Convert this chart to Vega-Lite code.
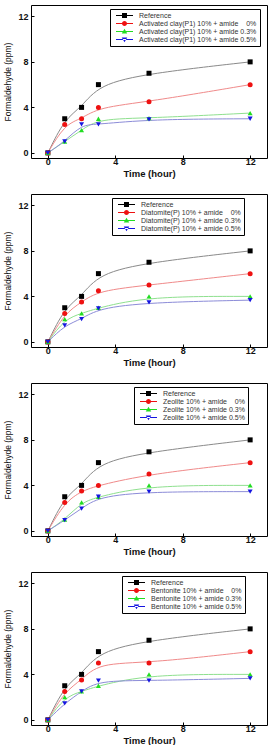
{
  "$schema": "https://vega.github.io/schema/vega-lite/v6.json",
  "padding": {"left": 3, "top": 4, "right": 5, "bottom": 0},
  "background": "white",
  "spacing": 15,
  "config": {
    "view": {"stroke": "#000", "strokeWidth": 1},
    "axis": {
      "domain": false, "grid": false, "labelOverlap": false,
      "labelFont": "Liberation Sans", "labelFontSize": 9, "labelFontWeight": "bold", "labelColor": "#111",
      "titleFont": "Liberation Sans", "titleColor": "#111",
      "tickColor": "#000", "tickWidth": 1, "tickSize": -3
    }
  },
  "data": {"values": [
    {"p": 1, "s": "Reference", "t": 0, "v": 0}, {"p": 1, "s": "Reference", "t": 1, "v": 3}, {"p": 1, "s": "Reference", "t": 2, "v": 4}, {"p": 1, "s": "Reference", "t": 3, "v": 6}, {"p": 1, "s": "Reference", "t": 6, "v": 7}, {"p": 1, "s": "Reference", "t": 12, "v": 8},
    {"p": 1, "s": "Activated clay(P1) 10% + amide\u00a0\u00a0\u00a0\u00a00%", "t": 0, "v": 0}, {"p": 1, "s": "Activated clay(P1) 10% + amide\u00a0\u00a0\u00a0\u00a00%", "t": 1, "v": 2.5}, {"p": 1, "s": "Activated clay(P1) 10% + amide\u00a0\u00a0\u00a0\u00a00%", "t": 2, "v": 3}, {"p": 1, "s": "Activated clay(P1) 10% + amide\u00a0\u00a0\u00a0\u00a00%", "t": 3, "v": 4}, {"p": 1, "s": "Activated clay(P1) 10% + amide\u00a0\u00a0\u00a0\u00a00%", "t": 6, "v": 4.5}, {"p": 1, "s": "Activated clay(P1) 10% + amide\u00a0\u00a0\u00a0\u00a00%", "t": 12, "v": 6},
    {"p": 1, "s": "Activated clay(P1) 10% + amide 0.3%", "t": 0, "v": 0}, {"p": 1, "s": "Activated clay(P1) 10% + amide 0.3%", "t": 1, "v": 1}, {"p": 1, "s": "Activated clay(P1) 10% + amide 0.3%", "t": 2, "v": 2}, {"p": 1, "s": "Activated clay(P1) 10% + amide 0.3%", "t": 3, "v": 3}, {"p": 1, "s": "Activated clay(P1) 10% + amide 0.3%", "t": 6, "v": 3.05}, {"p": 1, "s": "Activated clay(P1) 10% + amide 0.3%", "t": 12, "v": 3.5},
    {"p": 1, "s": "Activated clay(P1) 10% + amide 0.5%", "t": 0, "v": 0}, {"p": 1, "s": "Activated clay(P1) 10% + amide 0.5%", "t": 1, "v": 1}, {"p": 1, "s": "Activated clay(P1) 10% + amide 0.5%", "t": 2, "v": 2.5}, {"p": 1, "s": "Activated clay(P1) 10% + amide 0.5%", "t": 3, "v": 2.5}, {"p": 1, "s": "Activated clay(P1) 10% + amide 0.5%", "t": 6, "v": 2.95}, {"p": 1, "s": "Activated clay(P1) 10% + amide 0.5%", "t": 12, "v": 3},

    {"p": 2, "s": "Reference", "t": 0, "v": 0}, {"p": 2, "s": "Reference", "t": 1, "v": 3}, {"p": 2, "s": "Reference", "t": 2, "v": 4}, {"p": 2, "s": "Reference", "t": 3, "v": 6}, {"p": 2, "s": "Reference", "t": 6, "v": 7}, {"p": 2, "s": "Reference", "t": 12, "v": 8},
    {"p": 2, "s": "Diatomite(P) 10% + amide\u00a0\u00a0\u00a0\u00a00%", "t": 0, "v": 0}, {"p": 2, "s": "Diatomite(P) 10% + amide\u00a0\u00a0\u00a0\u00a00%", "t": 1, "v": 2.5}, {"p": 2, "s": "Diatomite(P) 10% + amide\u00a0\u00a0\u00a0\u00a00%", "t": 2, "v": 3.5}, {"p": 2, "s": "Diatomite(P) 10% + amide\u00a0\u00a0\u00a0\u00a00%", "t": 3, "v": 4.5}, {"p": 2, "s": "Diatomite(P) 10% + amide\u00a0\u00a0\u00a0\u00a00%", "t": 6, "v": 5}, {"p": 2, "s": "Diatomite(P) 10% + amide\u00a0\u00a0\u00a0\u00a00%", "t": 12, "v": 6},
    {"p": 2, "s": "Diatomite(P) 10% + amide 0.3%", "t": 0, "v": 0}, {"p": 2, "s": "Diatomite(P) 10% + amide 0.3%", "t": 1, "v": 2}, {"p": 2, "s": "Diatomite(P) 10% + amide 0.3%", "t": 2, "v": 2.5}, {"p": 2, "s": "Diatomite(P) 10% + amide 0.3%", "t": 3, "v": 3}, {"p": 2, "s": "Diatomite(P) 10% + amide 0.3%", "t": 6, "v": 4}, {"p": 2, "s": "Diatomite(P) 10% + amide 0.3%", "t": 12, "v": 4},
    {"p": 2, "s": "Diatomite(P) 10% + amide 0.5%", "t": 0, "v": 0}, {"p": 2, "s": "Diatomite(P) 10% + amide 0.5%", "t": 1, "v": 1.45}, {"p": 2, "s": "Diatomite(P) 10% + amide 0.5%", "t": 2, "v": 2}, {"p": 2, "s": "Diatomite(P) 10% + amide 0.5%", "t": 3, "v": 2.95}, {"p": 2, "s": "Diatomite(P) 10% + amide 0.5%", "t": 6, "v": 3.47}, {"p": 2, "s": "Diatomite(P) 10% + amide 0.5%", "t": 12, "v": 3.67},

    {"p": 3, "s": "Reference", "t": 0, "v": 0}, {"p": 3, "s": "Reference", "t": 1, "v": 3}, {"p": 3, "s": "Reference", "t": 2, "v": 4}, {"p": 3, "s": "Reference", "t": 3, "v": 6}, {"p": 3, "s": "Reference", "t": 6, "v": 6.95}, {"p": 3, "s": "Reference", "t": 12, "v": 8},
    {"p": 3, "s": "Zeolite 10% + amide\u00a0\u00a0\u00a0\u00a00%", "t": 0, "v": 0}, {"p": 3, "s": "Zeolite 10% + amide\u00a0\u00a0\u00a0\u00a00%", "t": 1, "v": 2.5}, {"p": 3, "s": "Zeolite 10% + amide\u00a0\u00a0\u00a0\u00a00%", "t": 2, "v": 3.5}, {"p": 3, "s": "Zeolite 10% + amide\u00a0\u00a0\u00a0\u00a00%", "t": 3, "v": 4}, {"p": 3, "s": "Zeolite 10% + amide\u00a0\u00a0\u00a0\u00a00%", "t": 6, "v": 5}, {"p": 3, "s": "Zeolite 10% + amide\u00a0\u00a0\u00a0\u00a00%", "t": 12, "v": 6},
    {"p": 3, "s": "Zeolite 10% + amide 0.3%", "t": 0, "v": 0}, {"p": 3, "s": "Zeolite 10% + amide 0.3%", "t": 1, "v": 1}, {"p": 3, "s": "Zeolite 10% + amide 0.3%", "t": 2, "v": 2.5}, {"p": 3, "s": "Zeolite 10% + amide 0.3%", "t": 3, "v": 3}, {"p": 3, "s": "Zeolite 10% + amide 0.3%", "t": 6, "v": 4}, {"p": 3, "s": "Zeolite 10% + amide 0.3%", "t": 12, "v": 4},
    {"p": 3, "s": "Zeolite 10% + amide 0.5%", "t": 0, "v": 0}, {"p": 3, "s": "Zeolite 10% + amide 0.5%", "t": 1, "v": 0.95}, {"p": 3, "s": "Zeolite 10% + amide 0.5%", "t": 2, "v": 1.96}, {"p": 3, "s": "Zeolite 10% + amide 0.5%", "t": 3, "v": 3}, {"p": 3, "s": "Zeolite 10% + amide 0.5%", "t": 6, "v": 3.45}, {"p": 3, "s": "Zeolite 10% + amide 0.5%", "t": 12, "v": 3.45},

    {"p": 4, "s": "Reference", "t": 0, "v": 0}, {"p": 4, "s": "Reference", "t": 1, "v": 3}, {"p": 4, "s": "Reference", "t": 2, "v": 4}, {"p": 4, "s": "Reference", "t": 3, "v": 6}, {"p": 4, "s": "Reference", "t": 6, "v": 7}, {"p": 4, "s": "Reference", "t": 12, "v": 8},
    {"p": 4, "s": "Bentonite 10% + amide\u00a0\u00a0\u00a0\u00a00%", "t": 0, "v": 0}, {"p": 4, "s": "Bentonite 10% + amide\u00a0\u00a0\u00a0\u00a00%", "t": 1, "v": 2.5}, {"p": 4, "s": "Bentonite 10% + amide\u00a0\u00a0\u00a0\u00a00%", "t": 2, "v": 3.5}, {"p": 4, "s": "Bentonite 10% + amide\u00a0\u00a0\u00a0\u00a00%", "t": 3, "v": 5}, {"p": 4, "s": "Bentonite 10% + amide\u00a0\u00a0\u00a0\u00a00%", "t": 6, "v": 5}, {"p": 4, "s": "Bentonite 10% + amide\u00a0\u00a0\u00a0\u00a00%", "t": 12, "v": 6},
    {"p": 4, "s": "Bentonite 10% + amide 0.3%", "t": 0, "v": 0}, {"p": 4, "s": "Bentonite 10% + amide 0.3%", "t": 1, "v": 2}, {"p": 4, "s": "Bentonite 10% + amide 0.3%", "t": 2, "v": 2.5}, {"p": 4, "s": "Bentonite 10% + amide 0.3%", "t": 3, "v": 3}, {"p": 4, "s": "Bentonite 10% + amide 0.3%", "t": 6, "v": 4}, {"p": 4, "s": "Bentonite 10% + amide 0.3%", "t": 12, "v": 4},
    {"p": 4, "s": "Bentonite 10% + amide 0.5%", "t": 0, "v": 0}, {"p": 4, "s": "Bentonite 10% + amide 0.5%", "t": 1, "v": 1.45}, {"p": 4, "s": "Bentonite 10% + amide 0.5%", "t": 2, "v": 2.5}, {"p": 4, "s": "Bentonite 10% + amide 0.5%", "t": 3, "v": 3.45}, {"p": 4, "s": "Bentonite 10% + amide 0.5%", "t": 6, "v": 3.45}, {"p": 4, "s": "Bentonite 10% + amide 0.5%", "t": 12, "v": 3.65}
  ]},
  "vconcat": [
    {
      "width": 236, "height": 153,
      "transform": [{"filter": "datum.p === 1"}],
      "layer": [
        {"mark": {"type": "line", "interpolate": "basis", "strokeWidth": 1},
         "encoding": {
           "x": {"field": "t", "type": "quantitative", "scale": {"domain": [-1, 13], "nice": false, "zero": false}, "axis": {"title": "Time (hour)", "titleFontSize": 9.5, "titleFontWeight": "bold", "titlePadding": 2, "labelPadding": 2, "labelOverlap": false, "values": [0,2,4,6,8,10,12]}},
           "y": {"field": "v", "type": "quantitative", "scale": {"domain": [-0.45, 13], "nice": false, "zero": false}, "axis": {"title": "Formaldehyde (ppm)", "titleFontSize": 8.5, "titleFontWeight": "normal", "titlePadding": 5, "labelPadding": 6, "labelOverlap": false, "values": [0,2,4,6,8,10,12]}},
           "color": {"field": "s", "type": "nominal", "scale": {"domain": ["Reference", "Activated clay(P1) 10% + amide\u00a0\u00a0\u00a0\u00a00%", "Activated clay(P1) 10% + amide 0.3%", "Activated clay(P1) 10% + amide 0.5%"], "range": ["#8a8a8a", "#f08a8a", "#8fe08f", "#8c8cd8"]}, "legend": null}
         }},
        {"mark": {"type": "point", "filled": true, "size": 25, "opacity": 1},
         "encoding": {
           "x": {"field": "t", "type": "quantitative"},
           "y": {"field": "v", "type": "quantitative"},
           "color": {"field": "s", "type": "nominal", "scale": {"domain": ["Reference", "Activated clay(P1) 10% + amide\u00a0\u00a0\u00a0\u00a00%", "Activated clay(P1) 10% + amide 0.3%", "Activated clay(P1) 10% + amide 0.5%"], "range": ["#000000", "#ee1111", "#22dd22", "#1515e0"]}, "legend": null},
           "shape": {"field": "s", "type": "nominal", "scale": {"domain": ["Reference", "Activated clay(P1) 10% + amide\u00a0\u00a0\u00a0\u00a00%", "Activated clay(P1) 10% + amide 0.3%", "Activated clay(P1) 10% + amide 0.5%"], "range": ["square", "circle", "triangle-up", "triangle-down"]}, "legend": null}
         }},
        {"mark": {"type": "point", "filled": true, "size": 25, "opacity": 0},
         "encoding": {
           "x": {"field": "t", "type": "quantitative"},
           "y": {"field": "v", "type": "quantitative"},
           "color": {"field": "s", "type": "nominal", "scale": {"domain": ["Reference", "Activated clay(P1) 10% + amide\u00a0\u00a0\u00a0\u00a00%", "Activated clay(P1) 10% + amide 0.3%", "Activated clay(P1) 10% + amide 0.5%"], "range": ["#000000", "#ee1111", "#22dd22", "#1515e0"]},
             "legend": {"orient": "none", "legendX": 79, "legendY": 4, "title": null, "symbolSize": 25, "symbolOffset": 8, "symbolOpacity": 1, "symbolStrokeWidth": 0, "labelFont": "Liberation Sans", "labelFontSize": 7, "labelColor": "#333", "labelOffset": 11, "padding": 3, "rowPadding": 0, "strokeColor": "#000"}},
           "shape": {"field": "s", "type": "nominal", "scale": {"domain": ["Reference", "Activated clay(P1) 10% + amide\u00a0\u00a0\u00a0\u00a00%", "Activated clay(P1) 10% + amide 0.3%", "Activated clay(P1) 10% + amide 0.5%"], "range": ["M-1,-1H1V1H-1Z M-3.4,-0.2H3.4V0.2H-3.4Z", "M1,0A1,1 0 1,1 -1,0A1,1 0 1,1 1,0Z M-3.4,-0.2H3.4V0.2H-3.4Z", "M0,-1.1L1.1,0.8H-1.1Z M-3.4,-0.2H3.4V0.2H-3.4Z", "M0,1.1L1.1,-0.8H-1.1Z M-3.4,-0.2H3.4V0.2H-3.4Z"]},
             "legend": {"orient": "none", "legendX": 79, "legendY": 4, "title": null, "symbolSize": 25, "symbolOffset": 8, "symbolOpacity": 1, "symbolStrokeWidth": 0, "labelFont": "Liberation Sans", "labelFontSize": 7, "labelColor": "#333", "labelOffset": 11, "padding": 3, "rowPadding": 0, "strokeColor": "#000"}}
         }}
      ],
      "resolve": {"scale": {"color": "independent", "shape": "independent"}}
    },
    {
      "width": 236, "height": 153,
      "transform": [{"filter": "datum.p === 2"}],
      "layer": [
        {"mark": {"type": "line", "interpolate": "basis", "strokeWidth": 1},
         "encoding": {
           "x": {"field": "t", "type": "quantitative", "scale": {"domain": [-1, 13], "nice": false, "zero": false}, "axis": {"title": "Time (hour)", "titleFontSize": 9.5, "titleFontWeight": "bold", "titlePadding": 2, "labelPadding": 2, "labelOverlap": false, "values": [0,2,4,6,8,10,12]}},
           "y": {"field": "v", "type": "quantitative", "scale": {"domain": [-0.45, 13], "nice": false, "zero": false}, "axis": {"title": "Formaldehyde (ppm)", "titleFontSize": 8.5, "titleFontWeight": "normal", "titlePadding": 5, "labelPadding": 6, "labelOverlap": false, "values": [0,2,4,6,8,10,12]}},
           "color": {"field": "s", "type": "nominal", "scale": {"domain": ["Reference", "Diatomite(P) 10% + amide\u00a0\u00a0\u00a0\u00a00%", "Diatomite(P) 10% + amide 0.3%", "Diatomite(P) 10% + amide 0.5%"], "range": ["#8a8a8a", "#f08a8a", "#8fe08f", "#8c8cd8"]}, "legend": null}
         }},
        {"mark": {"type": "point", "filled": true, "size": 25, "opacity": 1},
         "encoding": {
           "x": {"field": "t", "type": "quantitative"},
           "y": {"field": "v", "type": "quantitative"},
           "color": {"field": "s", "type": "nominal", "scale": {"domain": ["Reference", "Diatomite(P) 10% + amide\u00a0\u00a0\u00a0\u00a00%", "Diatomite(P) 10% + amide 0.3%", "Diatomite(P) 10% + amide 0.5%"], "range": ["#000000", "#ee1111", "#22dd22", "#1515e0"]}, "legend": null},
           "shape": {"field": "s", "type": "nominal", "scale": {"domain": ["Reference", "Diatomite(P) 10% + amide\u00a0\u00a0\u00a0\u00a00%", "Diatomite(P) 10% + amide 0.3%", "Diatomite(P) 10% + amide 0.5%"], "range": ["square", "circle", "triangle-up", "triangle-down"]}, "legend": null}
         }},
        {"mark": {"type": "point", "filled": true, "size": 25, "opacity": 0},
         "encoding": {
           "x": {"field": "t", "type": "quantitative"},
           "y": {"field": "v", "type": "quantitative"},
           "color": {"field": "s", "type": "nominal", "scale": {"domain": ["Reference", "Diatomite(P) 10% + amide\u00a0\u00a0\u00a0\u00a00%", "Diatomite(P) 10% + amide 0.3%", "Diatomite(P) 10% + amide 0.5%"], "range": ["#000000", "#ee1111", "#22dd22", "#1515e0"]},
             "legend": {"orient": "none", "legendX": 81, "legendY": 4, "title": null, "symbolSize": 25, "symbolOffset": 8, "symbolOpacity": 1, "symbolStrokeWidth": 0, "labelFont": "Liberation Sans", "labelFontSize": 7, "labelColor": "#333", "labelOffset": 11, "padding": 3, "rowPadding": 0, "strokeColor": "#000"}},
           "shape": {"field": "s", "type": "nominal", "scale": {"domain": ["Reference", "Diatomite(P) 10% + amide\u00a0\u00a0\u00a0\u00a00%", "Diatomite(P) 10% + amide 0.3%", "Diatomite(P) 10% + amide 0.5%"], "range": ["M-1,-1H1V1H-1Z M-3.4,-0.2H3.4V0.2H-3.4Z", "M1,0A1,1 0 1,1 -1,0A1,1 0 1,1 1,0Z M-3.4,-0.2H3.4V0.2H-3.4Z", "M0,-1.1L1.1,0.8H-1.1Z M-3.4,-0.2H3.4V0.2H-3.4Z", "M0,1.1L1.1,-0.8H-1.1Z M-3.4,-0.2H3.4V0.2H-3.4Z"]},
             "legend": {"orient": "none", "legendX": 81, "legendY": 4, "title": null, "symbolSize": 25, "symbolOffset": 8, "symbolOpacity": 1, "symbolStrokeWidth": 0, "labelFont": "Liberation Sans", "labelFontSize": 7, "labelColor": "#333", "labelOffset": 11, "padding": 3, "rowPadding": 0, "strokeColor": "#000"}}
         }}
      ],
      "resolve": {"scale": {"color": "independent", "shape": "independent"}}
    },
    {
      "width": 236, "height": 153,
      "transform": [{"filter": "datum.p === 3"}],
      "layer": [
        {"mark": {"type": "line", "interpolate": "basis", "strokeWidth": 1},
         "encoding": {
           "x": {"field": "t", "type": "quantitative", "scale": {"domain": [-1, 13], "nice": false, "zero": false}, "axis": {"title": "Time (hour)", "titleFontSize": 9.5, "titleFontWeight": "bold", "titlePadding": 2, "labelPadding": 2, "labelOverlap": false, "values": [0,2,4,6,8,10,12]}},
           "y": {"field": "v", "type": "quantitative", "scale": {"domain": [-0.45, 13], "nice": false, "zero": false}, "axis": {"title": "Formaldehyde (ppm)", "titleFontSize": 8.5, "titleFontWeight": "normal", "titlePadding": 5, "labelPadding": 6, "labelOverlap": false, "values": [0,2,4,6,8,10,12]}},
           "color": {"field": "s", "type": "nominal", "scale": {"domain": ["Reference", "Zeolite 10% + amide\u00a0\u00a0\u00a0\u00a00%", "Zeolite 10% + amide 0.3%", "Zeolite 10% + amide 0.5%"], "range": ["#8a8a8a", "#f08a8a", "#8fe08f", "#8c8cd8"]}, "legend": null}
         }},
        {"mark": {"type": "point", "filled": true, "size": 25, "opacity": 1},
         "encoding": {
           "x": {"field": "t", "type": "quantitative"},
           "y": {"field": "v", "type": "quantitative"},
           "color": {"field": "s", "type": "nominal", "scale": {"domain": ["Reference", "Zeolite 10% + amide\u00a0\u00a0\u00a0\u00a00%", "Zeolite 10% + amide 0.3%", "Zeolite 10% + amide 0.5%"], "range": ["#000000", "#ee1111", "#22dd22", "#1515e0"]}, "legend": null},
           "shape": {"field": "s", "type": "nominal", "scale": {"domain": ["Reference", "Zeolite 10% + amide\u00a0\u00a0\u00a0\u00a00%", "Zeolite 10% + amide 0.3%", "Zeolite 10% + amide 0.5%"], "range": ["square", "circle", "triangle-up", "triangle-down"]}, "legend": null}
         }},
        {"mark": {"type": "point", "filled": true, "size": 25, "opacity": 0},
         "encoding": {
           "x": {"field": "t", "type": "quantitative"},
           "y": {"field": "v", "type": "quantitative"},
           "color": {"field": "s", "type": "nominal", "scale": {"domain": ["Reference", "Zeolite 10% + amide\u00a0\u00a0\u00a0\u00a00%", "Zeolite 10% + amide 0.3%", "Zeolite 10% + amide 0.5%"], "range": ["#000000", "#ee1111", "#22dd22", "#1515e0"]},
             "legend": {"orient": "none", "legendX": 103, "legendY": 4, "title": null, "symbolSize": 25, "symbolOffset": 8, "symbolOpacity": 1, "symbolStrokeWidth": 0, "labelFont": "Liberation Sans", "labelFontSize": 7, "labelColor": "#333", "labelOffset": 11, "padding": 3, "rowPadding": 0, "strokeColor": "#000"}},
           "shape": {"field": "s", "type": "nominal", "scale": {"domain": ["Reference", "Zeolite 10% + amide\u00a0\u00a0\u00a0\u00a00%", "Zeolite 10% + amide 0.3%", "Zeolite 10% + amide 0.5%"], "range": ["M-1,-1H1V1H-1Z M-3.4,-0.2H3.4V0.2H-3.4Z", "M1,0A1,1 0 1,1 -1,0A1,1 0 1,1 1,0Z M-3.4,-0.2H3.4V0.2H-3.4Z", "M0,-1.1L1.1,0.8H-1.1Z M-3.4,-0.2H3.4V0.2H-3.4Z", "M0,1.1L1.1,-0.8H-1.1Z M-3.4,-0.2H3.4V0.2H-3.4Z"]},
             "legend": {"orient": "none", "legendX": 103, "legendY": 4, "title": null, "symbolSize": 25, "symbolOffset": 8, "symbolOpacity": 1, "symbolStrokeWidth": 0, "labelFont": "Liberation Sans", "labelFontSize": 7, "labelColor": "#333", "labelOffset": 11, "padding": 3, "rowPadding": 0, "strokeColor": "#000"}}
         }}
      ],
      "resolve": {"scale": {"color": "independent", "shape": "independent"}}
    },
    {
      "width": 236, "height": 153,
      "transform": [{"filter": "datum.p === 4"}],
      "layer": [
        {"mark": {"type": "line", "interpolate": "basis", "strokeWidth": 1},
         "encoding": {
           "x": {"field": "t", "type": "quantitative", "scale": {"domain": [-1, 13], "nice": false, "zero": false}, "axis": {"title": "Time (hour)", "titleFontSize": 9.5, "titleFontWeight": "bold", "titlePadding": 2, "labelPadding": 2, "labelOverlap": false, "values": [0,2,4,6,8,10,12]}},
           "y": {"field": "v", "type": "quantitative", "scale": {"domain": [-0.45, 13], "nice": false, "zero": false}, "axis": {"title": "Formaldehyde (ppm)", "titleFontSize": 8.5, "titleFontWeight": "normal", "titlePadding": 5, "labelPadding": 6, "labelOverlap": false, "values": [0,2,4,6,8,10,12]}},
           "color": {"field": "s", "type": "nominal", "scale": {"domain": ["Reference", "Bentonite 10% + amide\u00a0\u00a0\u00a0\u00a00%", "Bentonite 10% + amide 0.3%", "Bentonite 10% + amide 0.5%"], "range": ["#8a8a8a", "#f08a8a", "#8fe08f", "#8c8cd8"]}, "legend": null}
         }},
        {"mark": {"type": "point", "filled": true, "size": 25, "opacity": 1},
         "encoding": {
           "x": {"field": "t", "type": "quantitative"},
           "y": {"field": "v", "type": "quantitative"},
           "color": {"field": "s", "type": "nominal", "scale": {"domain": ["Reference", "Bentonite 10% + amide\u00a0\u00a0\u00a0\u00a00%", "Bentonite 10% + amide 0.3%", "Bentonite 10% + amide 0.5%"], "range": ["#000000", "#ee1111", "#22dd22", "#1515e0"]}, "legend": null},
           "shape": {"field": "s", "type": "nominal", "scale": {"domain": ["Reference", "Bentonite 10% + amide\u00a0\u00a0\u00a0\u00a00%", "Bentonite 10% + amide 0.3%", "Bentonite 10% + amide 0.5%"], "range": ["square", "circle", "triangle-up", "triangle-down"]}, "legend": null}
         }},
        {"mark": {"type": "point", "filled": true, "size": 25, "opacity": 0},
         "encoding": {
           "x": {"field": "t", "type": "quantitative"},
           "y": {"field": "v", "type": "quantitative"},
           "color": {"field": "s", "type": "nominal", "scale": {"domain": ["Reference", "Bentonite 10% + amide\u00a0\u00a0\u00a0\u00a00%", "Bentonite 10% + amide 0.3%", "Bentonite 10% + amide 0.5%"], "range": ["#000000", "#ee1111", "#22dd22", "#1515e0"]},
             "legend": {"orient": "none", "legendX": 91, "legendY": 4, "title": null, "symbolSize": 25, "symbolOffset": 8, "symbolOpacity": 1, "symbolStrokeWidth": 0, "labelFont": "Liberation Sans", "labelFontSize": 7, "labelColor": "#333", "labelOffset": 11, "padding": 3, "rowPadding": 0, "strokeColor": "#000"}},
           "shape": {"field": "s", "type": "nominal", "scale": {"domain": ["Reference", "Bentonite 10% + amide\u00a0\u00a0\u00a0\u00a00%", "Bentonite 10% + amide 0.3%", "Bentonite 10% + amide 0.5%"], "range": ["M-1,-1H1V1H-1Z M-3.4,-0.2H3.4V0.2H-3.4Z", "M1,0A1,1 0 1,1 -1,0A1,1 0 1,1 1,0Z M-3.4,-0.2H3.4V0.2H-3.4Z", "M0,-1.1L1.1,0.8H-1.1Z M-3.4,-0.2H3.4V0.2H-3.4Z", "M0,1.1L1.1,-0.8H-1.1Z M-3.4,-0.2H3.4V0.2H-3.4Z"]},
             "legend": {"orient": "none", "legendX": 91, "legendY": 4, "title": null, "symbolSize": 25, "symbolOffset": 8, "symbolOpacity": 1, "symbolStrokeWidth": 0, "labelFont": "Liberation Sans", "labelFontSize": 7, "labelColor": "#333", "labelOffset": 11, "padding": 3, "rowPadding": 0, "strokeColor": "#000"}}
         }}
      ],
      "resolve": {"scale": {"color": "independent", "shape": "independent"}}
    }
  ]
}
